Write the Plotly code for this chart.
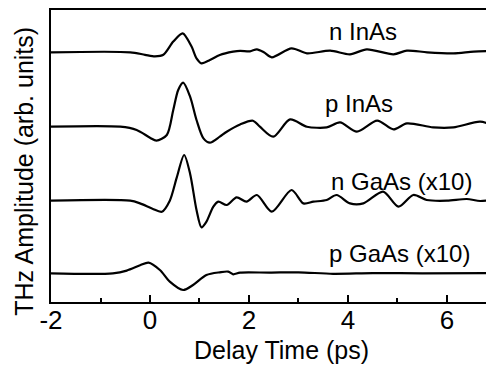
import plotly.graph_objects as go

# ---- data (time in ps, amplitude in arbitrary units) ----
t_n_inas = [-2.0, -0.4, -0.1, 0.1, 0.27, 0.47, 0.66, 0.84, 0.94, 1.04, 1.21, 1.41, 1.68, 1.82, 2.02, 2.16, 2.3, 2.46, 2.86, 3.17, 3.64, 4.04, 4.38, 4.92, 5.19, 5.6, 6.13, 6.54, 6.95]
a_n_inas = [0, 0, -2.5, -4, -2.5, 10.7, 19, 5.7, -6, -11, -7.7, -2.7, 0.6, 1.5, 1, 3, 0, -5, 4, -1, 1.7, -2, 3, -2, 1.7, 0, -1, 0.7, 1.3]

t_p_inas = [-2.0, -0.6, -0.27, 0.0, 0.13, 0.34, 0.47, 0.57, 0.67, 0.81, 0.94, 1.08, 1.21, 1.41, 1.55, 1.82, 2.08, 2.22, 2.49, 2.83, 3.17, 3.57, 3.84, 4.18, 4.59, 4.92, 5.19, 5.72, 6.13, 6.67, 6.95]
a_p_inas = [0, 0, -3.3, -11, -14, -8.3, 16.7, 36.7, 44, 30, 6.7, -11.7, -16, -10, -5, 2.3, 6, 0, -10, 7.3, 0, -0.7, 4.3, -5, 6, -2.7, 3.3, -0.7, -0.7, 5, 1]

t_n_gaas = [-2.0, -0.4, -0.2, 0.05, 0.24, 0.4, 0.54, 0.69, 0.81, 0.94, 1.04, 1.14, 1.28, 1.38, 1.55, 1.75, 1.95, 2.16, 2.46, 2.86, 3.1, 3.3, 3.57, 3.77, 4.04, 4.31, 4.71, 5.02, 5.32, 5.59, 6.0, 6.4, 6.67, 6.95]
a_n_gaas = [0, 0, -2.7, -8, -11, 0, 23, 45.7, 27, -9.3, -26.7, -21, -6, -1, -4.3, 3.3, -1, 5.7, -11, 10.7, -2.7, -1, 0.7, 5.7, -2.7, -2.7, 9, -6, 5.7, 0.7, 0, 1.7, -0.3, 1.3]

t_p_gaas = [-2.0, -0.75, -0.47, -0.2, -0.03, 0.2, 0.4, 0.67, 0.87, 1.14, 1.41, 1.58, 1.68, 1.82, 2.42, 3.0, 3.7, 4.5, 5.5, 6.95]
a_p_gaas = [0, 0, 2.7, 8, 10.7, 3.3, -8.3, -16.7, -11.7, -1.7, 1, 1.7, -1, 0.7, 0.7, 1, -0.5, 0.2, 0, 0.3]

labels = ["n InAs", "p InAs", "n GaAs (x10)", "p GaAs (x10)"]
offsets = [249.7, 175.3, 101.3, 28.7]
label_x = [4.30, 4.22, 5.09, 5.05]
label_y = [271, 199, 121, 49]

x_ticks = [-2, 0, 2, 4, 6]
x_title = "Delay Time (ps)"
y_title = "THz Amplitude (arb. units)"

series = [(t_n_inas, a_n_inas), (t_p_inas, a_p_inas), (t_n_gaas, a_n_gaas), (t_p_gaas, a_p_gaas)]

fig = go.Figure()
for (t, a), off in zip(series, offsets):
    fig.add_trace(go.Scatter(
        x=t, y=[v + off for v in a], mode="lines",
        line=dict(color="black", width=2.2, shape="spline", smoothing=0.8),
        showlegend=False, hoverinfo="skip"))

font_family = "Liberation Sans, Arial, sans-serif"
for txt, lx, ly in zip(labels, label_x, label_y):
    fig.add_annotation(x=lx, y=ly, text=txt, showarrow=False,
                       font=dict(family=font_family, size=24, color="black"),
                       xanchor="center", yanchor="middle")

# axis titles as annotations for exact placement
fig.add_annotation(xref="paper", yref="paper", x=0.521, y=-0.163, text=x_title,
                   showarrow=False, xanchor="center", yanchor="middle",
                   font=dict(family=font_family, size=25, color="black"))
fig.add_annotation(xref="paper", yref="paper", x=-0.061, y=0.449, text=y_title,
                   showarrow=False, xanchor="center", yanchor="middle", textangle=-90,
                   font=dict(family=font_family, size=25, color="black"))

# page body has an 8px margin: size the figure to fit the window
fig.update_layout(
    width=486, height=360,
    margin=dict(l=43, r=0, t=2, b=66),
    paper_bgcolor="white", plot_bgcolor="white",
    font=dict(family=font_family, color="black"),
)
fig.update_xaxes(
    range=[-2, 6.95], showgrid=False, zeroline=False, automargin=False,
    showline=True, linecolor="black", linewidth=2, mirror=True,
    ticks="inside", ticklen=7, tickwidth=2, tickcolor="black",
    tickvals=x_ticks, ticktext=[str(v) for v in x_ticks],
    tickfont=dict(size=26, family=font_family), ticklabelstandoff=-6,
    minor=dict(dtick=1, tick0=-1, ticks="inside", ticklen=4, tickwidth=1.5, tickcolor="black"),
)
fig.update_yaxes(
    range=[0, 292], showgrid=False, zeroline=False, automargin=False,
    showline=True, linecolor="black", linewidth=2, mirror=False,
    showticklabels=False, ticks="",
)
fig.write_html("out.html")
